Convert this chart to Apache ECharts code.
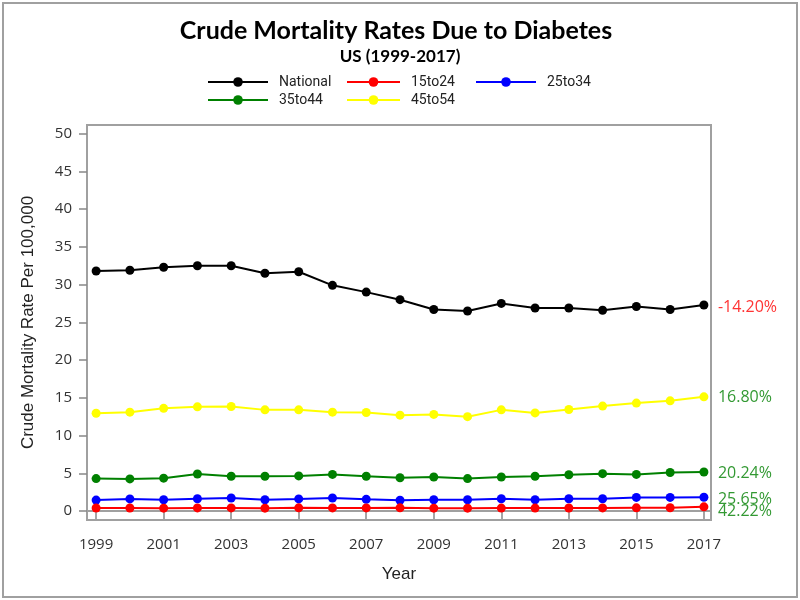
<!DOCTYPE html>
<html>
<head>
<meta charset="utf-8">
<script src="https://cdn.jsdelivr.net/npm/echarts@6/dist/echarts.min.js"></script>
<style>html,body{margin:0;padding:0;background:#fff;}#c{width:800px;height:600px;}</style>
</head>
<body>
<div id="c"></div>
<script>
var years = [1999,2000,2001,2002,2003,2004,2005,2006,2007,2008,2009,2010,2011,2012,2013,2014,2015,2016,2017];
var national = [31.8,31.9,32.3,32.5,32.5,31.5,31.7,29.9,29.0,28.0,26.7,26.5,27.5,26.9,26.9,26.6,27.1,26.7,27.3];
var age15to24 = [0.40,0.40,0.38,0.41,0.41,0.38,0.42,0.41,0.41,0.42,0.38,0.38,0.39,0.39,0.40,0.41,0.42,0.43,0.55];
var age25to34 = [1.45,1.60,1.50,1.63,1.72,1.50,1.60,1.72,1.55,1.42,1.50,1.50,1.63,1.50,1.63,1.63,1.80,1.80,1.82];
var age35to44 = [4.30,4.25,4.35,4.90,4.60,4.60,4.65,4.85,4.60,4.40,4.50,4.30,4.50,4.60,4.80,4.95,4.85,5.10,5.17];
var age45to54 = [12.95,13.1,13.6,13.8,13.85,13.4,13.4,13.1,13.05,12.7,12.8,12.5,13.4,13.0,13.45,13.9,14.3,14.6,15.13];
var seriesNames = ['National','15to24','25to34','35to44','45to54'];
var changeLabels = ['-14.20%','42.22%','25.65%','20.24%','16.80%'];
var xTickValues = [1999,2001,2003,2005,2007,2009,2011,2013,2015,2017];
var yTickValues = [0,5,10,15,20,25,30,35,40,45,50];

var allData = [national, age15to24, age25to34, age35to44, age45to54];
var colors = ['#000000','#ff0000','#0000ff','#008000','#ffff00'];
var labelColors = ['#ff3333','#339933','#339933','#339933','#339933'];
var labelDy = [2, 5, 2, 1, 1];

var chart = echarts.init(document.getElementById('c'));

var series = allData.map(function(arr, i){
  return {
    name: seriesNames[i],
    type: 'line',
    data: years.map(function(y, j){ return [y, arr[j]]; }),
    symbol: 'circle',
    symbolSize: 9,
    showSymbol: true,
    lineStyle: {color: colors[i], width: 2},
    itemStyle: {color: colors[i]},
    z: 10 - i,
    animation: false,
    endLabel: {
      show: true,
      formatter: changeLabels[i],
      color: labelColors[i],
      fontFamily: 'Open Sans',
      fontSize: 16,
      distance: 14,
      offset: [0, labelDy[i]]
    }
  };
});

var legendPos = [[207,75],[346,75],[475,75],[207,93],[346,93]];
var legends = seriesNames.map(function(n, i){
  return {
    data: [n],
    left: legendPos[i][0],
    top: legendPos[i][1],
    padding: 0,
    itemWidth: i === 1 || i === 4 ? 53 : 60,
    itemHeight: 12,
    textStyle: {fontFamily: 'Roboto', fontSize: 14, color: '#222', padding: [0,0,0,6]},
    selectedMode: false
  };
});

chart.setOption({
  animation: false,
  title: [
    {text: 'Crude Mortality Rates Due to Diabetes', left: 391, top: 13, textAlign: 'center',
     textStyle: {fontFamily: 'Lato', fontWeight: 'bold', fontSize: 25, color: '#000'}},
    {text: 'US (1999-2017)', left: 395, top: 43, textAlign: 'center',
     textStyle: {fontFamily: 'Lato', fontWeight: 'bold', fontSize: 17, color: '#000'}}
  ],
  legend: legends,
  grid: {left: 87, right: 89, top: 125, bottom: 80, show: true, borderColor: '#a0a0a0', borderWidth: 2, containLabel: false},
  xAxis: {
    type: 'value',
    min: 1998.73, max: 2017.21,
    name: 'Year', nameLocation: 'middle', nameGap: 46,
    nameTextStyle: {fontFamily: 'Liberation Sans', fontSize: 17, color: '#222'},
    axisLine: {show: true, lineStyle: {color: '#a0a0a0', width: 2}},
    axisTick: {show: true, length: 8, customValues: xTickValues, lineStyle: {color: '#888', width: 1.5}},
    axisLabel: {customValues: xTickValues, margin: 17, fontFamily: 'Open Sans', fontSize: 15, color: '#333',
                formatter: function(v){ return String(v); }},
    splitLine: {show: false}
  },
  yAxis: {
    type: 'value',
    min: -1.19, max: 51.14,
    name: 'Crude Mortality Rate Per 100,000', nameLocation: 'middle', nameGap: 50,
    nameTextStyle: {fontFamily: 'Liberation Sans', fontSize: 17, color: '#222'},
    axisLine: {show: true, lineStyle: {color: '#a0a0a0', width: 2}},
    axisTick: {show: true, length: 8, customValues: yTickValues, lineStyle: {color: '#888', width: 1.5}},
    axisLabel: {customValues: yTickValues, margin: 15, fontFamily: 'Open Sans', fontSize: 15, color: '#333'},
    splitLine: {show: false}
  },
  graphic: [
    {type: 'rect', shape: {x: 3, y: 3, width: 794, height: 594}, style: {fill: 'none', stroke: '#a0a0a0', lineWidth: 2}, silent: true}
  ],
  series: series
});
</script>
</body>
</html>
